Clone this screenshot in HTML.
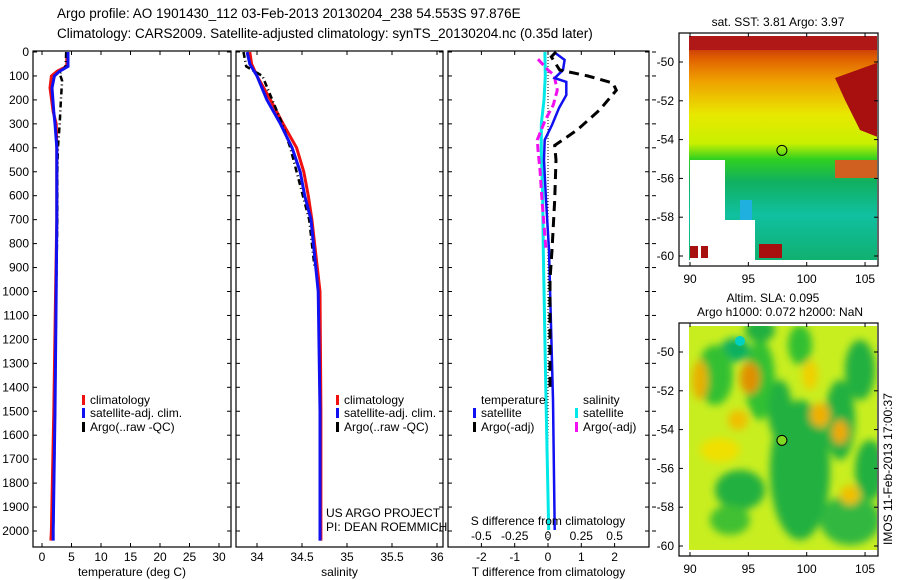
<!DOCTYPE html>
<html><head><meta charset="utf-8"><style>
html,body{margin:0;padding:0;background:#fff}
svg{display:block;font-family:"Liberation Sans",sans-serif}
</style></head><body>
<svg id="c" width="900" height="580" xmlns="http://www.w3.org/2000/svg">
<defs>
<linearGradient id="sstg" x1="0" y1="0" x2="0" y2="1">
<stop offset="0" stop-color="#b01010"/><stop offset="0.1" stop-color="#e06000"/><stop offset="0.2" stop-color="#f0a000"/><stop offset="0.35" stop-color="#e8e800"/><stop offset="0.48" stop-color="#c8f000"/><stop offset="0.55" stop-color="#30d020"/><stop offset="0.65" stop-color="#10b060"/><stop offset="0.8" stop-color="#10c0a0"/><stop offset="1" stop-color="#10b070"/>
</linearGradient>
<filter id="blur"><feGaussianBlur stdDeviation="4"/></filter>
</defs>
</svg>
<script>
const depthsT=[0,60,80,100,150,250,300,400,700,1000,1500,2000,2040];
const tempClim=[4.2,4.2,2.6,1.6,1.35,1.9,2.4,2.5,2.5,2.3,2.0,1.6,1.5];
const tempSat=[4.4,4.4,3.0,2.1,1.7,2.0,2.2,2.5,2.5,2.4,2.2,1.9,1.9];
const depthsA=[0,60,90,120,200,300,400,500,700,1000,1500,2000];
const tempArgo=[4.1,4.0,3.0,3.4,3.2,3.0,2.7,2.6,2.6,2.4,2.2,1.9];
const depthsS=[0,50,100,200,300,400,500,600,700,1000,1500,2000,2040];
const salClim=[33.92,33.94,34.0,34.15,34.29,34.44,34.52,34.57,34.61,34.7,34.71,34.71,34.71];
const salSat=[33.89,33.92,34.0,34.11,34.26,34.39,34.48,34.53,34.6,34.68,34.70,34.70,34.70];
const depthsSA=[0,60,100,200,300,400,500,700,900];
const salArgo=[33.85,33.88,34.06,34.17,34.28,34.37,34.44,34.58,34.64];
const depthsD=[0,33,75,109,125,180,234,305,367,451,618,827,1453,1996];
const tDiffSat=[0.18,0.5,0.45,0.2,0.55,0.55,0.33,0.12,-0.1,-0.12,-0.06,0.03,0.15,0.2];
const depthsDA=[0,20,75,100,130,160,242,326,390,451,618,827,950,1400];
const tDiffArgo=[0.24,0.1,0.35,1.2,1.95,2.05,1.55,0.87,0.2,0.24,0.2,0.12,0.06,0.06];
const depthsSD=[0,100,200,300,420,600,830,1450,1996];
const sDiffSat=[-0.023,-0.02,-0.03,-0.05,-0.05,-0.04,-0.035,-0.015,0.005];
const depthsSDA=[30,75,96,159,221,284,367,409,493,618,827];
const sDiffArgo=[-0.075,0.0,0.045,0.07,0.04,-0.02,-0.08,-0.075,-0.06,-0.045,-0.015];
const depthTicks=[0,100,200,300,400,500,600,700,800,900,1000,1100,1200,1300,1400,1500,1600,1700,1800,1900,2000];
const tTicks=[0,5,10,15,20,25,30];
const sTicks=[34,34.5,35,35.5,36];
const dTicks=[-2,-1,0,1,2];
const sdTicks=[-0.5,-0.25,0,0.25,0.5];
const latTicks=[-50,-52,-54,-56,-58,-60];
const lonTicks=[90,95,100,105];

const svg=document.getElementById('c');
const NS='http://www.w3.org/2000/svg';
function mk(tag,attrs,parent){const e=document.createElementNS(NS,tag);for(const k in attrs)e.setAttribute(k,attrs[k]);(parent||svg).appendChild(e);return e;}
function txt(x,y,s,anchor,size,parent,rot){const e=mk('text',{x:x,y:y,'font-size':size||12,'text-anchor':anchor||'start',fill:'#000'},parent);if(rot)e.setAttribute('transform',rot);e.textContent=s;return e;}
const Y=d=>52+d*0.2395;
const xT=v=>42+v*5.9;
const xS=v=>257+(v-34)*90;
const xD=v=>548+v*33.3;
const xSD=v=>548+v/0.25*33.3;
function path(ds,vs,fx){return ds.map((d,i)=>(i?'L':'M')+fx(vs[i]).toFixed(1)+','+Y(d).toFixed(1)).join('');}

const t1=txt(57,18,'Argo profile: AO 1901430_112 03-Feb-2013 20130204_238 54.553S 97.876E','start',13.5);

const t2=txt(57,38,'Climatology: CARS2009. Satellite-adjusted climatology: synTS_20130204.nc (0.35d later)','start',13.5);


function panel(name,x0,x1,ticks,fx,fmt,xlabel,rightTicks){
  const g=mk('g',{});
  
  
  mk('rect',{x:x0,y:51,width:x1-x0,height:496,fill:'none',stroke:'#000','stroke-width':1.2},g);
  depthTicks.forEach(d=>{mk('line',{x1:x0,x2:x0+4,y1:Y(d),y2:Y(d),stroke:'#000'},g);mk('line',{x1:x1,x2:x1-4,y1:Y(d),y2:Y(d),stroke:'#000'},g);
    if(rightTicks) mk('line',{x1:x1+3,x2:x1+7,y1:Y(d),y2:Y(d),stroke:'#000'},g);});
  ticks.forEach(v=>{const x=fx(v);mk('line',{x1:x,x2:x,y1:51,y2:55,stroke:'#000'},g);mk('line',{x1:x,x2:x,y1:547,y2:543,stroke:'#000'},g);
    const l=txt(x,561,fmt(v),'middle',12,g);});
  const xl=txt((x0+x1)/2,576,xlabel,'middle',12,g);
  return g;
}
depthTicks.forEach(d=>{const l=txt(29,Y(d)+4,String(d),'end',12);});

const g1=panel('temperature-panel',33,231,tTicks,xT,v=>String(v),'temperature (deg C)');
const g2=panel('salinity-panel',236,443,sTicks,xS,v=>String(v),'salinity');
const g3=panel('difference-panel',448,649,dTicks,xD,v=>String(v),'T difference from climatology',true);

function line(g,ds,vs,fx,color,w,dash,name){const p=mk('path',{d:path(ds,vs,fx),fill:'none',stroke:color,'stroke-width':w},g);if(dash)p.setAttribute('stroke-dasharray',dash);return p;}
line(g1,depthsT,tempClim,xT,'#f01010',3,null,'temp-climatology-line');
line(g1,depthsA,tempArgo,xT,'#000',2.5,'6,3,1,3','temp-argo-line');
line(g1,depthsT,tempSat,xT,'#1010f0',3,null,'temp-satellite-line');
line(g2,depthsS,salClim,xS,'#f01010',3,null,'salinity-climatology-line');
line(g2,depthsSA,salArgo,xS,'#000',2.5,'6,3,1,3','salinity-argo-line');
line(g2,depthsS,salSat,xS,'#1010f0',3,null,'salinity-satellite-line');
mk('line',{x1:548,x2:548,y1:51,y2:547,stroke:'#000','stroke-dasharray':'1,2'},g3);
line(g3,depthsSD,sDiffSat,xSD,'#00e8e8',3,null,'s-diff-satellite-line');
line(g3,depthsSDA,sDiffArgo,xSD,'#f010f0',3,'8,4','s-diff-argo-line');
line(g3,depthsD,tDiffSat,xD,'#1010f0',2.5,null,'t-diff-satellite-line');
line(g3,depthsDA,tDiffArgo,xD,'#000',3,'10,6','t-diff-argo-line');

const sdl=txt(548,525,'S difference from climatology','middle',12,g3);
sdTicks.forEach(v=>{const l=txt(xSD(v),540,String(v),'middle',12,g3);});

function legendEntry(g,x,y,color,label){const e=mk('g',{},g);
  mk('rect',{x:x,y:y-9,width:3,height:10,fill:color},e);txt(x+8,y,label,'start',12,e);}
const lg1=mk('g',{});
legendEntry(lg1,82,404,'#f01010','climatology');legendEntry(lg1,82,417,'#1010f0','satellite-adj. clim.');legendEntry(lg1,82,431,'#000','Argo(..raw -QC)');
const lg2=mk('g',{});
legendEntry(lg2,336,404,'#f01010','climatology');legendEntry(lg2,336,417,'#1010f0','satellite-adj. clim.');legendEntry(lg2,336,431,'#000','Argo(..raw -QC)');
const lg3=mk('g',{});
txt(481,404,'temperature','start',12,lg3);txt(583,404,'salinity','start',12,lg3);
legendEntry(lg3,473,417,'#1010f0','satellite');legendEntry(lg3,473,431,'#000','Argo(-adj)');
legendEntry(lg3,575,417,'#00e8e8','satellite');legendEntry(lg3,575,431,'#f010f0','Argo(-adj)');
const pi=mk('g',{});
txt(326,517,'US ARGO PROJECT','start',12,pi);txt(326,531,'PI: DEAN ROEMMICH','start',12,pi);

const xL=v=>690+(v-90)*11.67;
function mapFrame(name,top){
  const g=mk('g',{});
  const yl=v=>top+29+(-50-v)*19.4;
  return {g,yl,top};
}
const m1=mapFrame('sst-map',33);
const cl1=mk('clipPath',{id:'cp1'});mk('rect',{x:689,y:36,width:188,height:224},cl1);
const h1=mk('g',{'clip-path':'url(#cp1)'},m1.g);
mk('rect',{x:689,y:36,width:188,height:224,fill:'url(#sstg)'},h1);
mk('rect',{x:689,y:36,width:188,height:14,fill:'#b01818'},h1);
mk('polygon',{points:'835,78 885,60 885,140 860,130 845,100',fill:'#a81010'},h1);
mk('rect',{x:690,y:160,width:35,height:100,fill:'#fff'},h1);
mk('rect',{x:725,y:220,width:30,height:40,fill:'#fff'},h1);
mk('rect',{x:690,y:246,width:8,height:12,fill:'#a81010'},h1);
mk('rect',{x:701,y:246,width:7,height:12,fill:'#a81010'},h1);
mk('rect',{x:759,y:244,width:23,height:14,fill:'#a81010'},h1);
mk('rect',{x:740,y:200,width:12,height:20,fill:'#20b0e0'},h1);
mk('rect',{x:835,y:160,width:45,height:18,fill:'#d06020'},h1);
const m2=mapFrame('sla-map',323);
const cl2=mk('clipPath',{id:'cp2'});mk('rect',{x:689,y:326,width:188,height:224},cl2);
const h2=mk('g',{'clip-path':'url(#cp2)'},m2.g);
mk('rect',{x:689,y:326,width:188,height:224,fill:'#c8ee20'},h2);
const blobs=mk('g',{filter:'url(#blur)'},h2);
[[735,350,15,12,'#10b060'],[715,375,18,30,'#30c030'],[760,380,15,40,'#30c030'],[780,410,12,30,'#20b040'],[800,470,30,70,'#20b040'],[840,420,15,40,'#20b040'],[860,370,15,30,'#20b040'],[740,490,25,20,'#20b040'],[730,520,20,15,'#40c030'],[850,520,30,25,'#30b840'],[760,330,15,12,'#20b040'],[800,345,12,20,'#30c030'],[700,380,8,20,'#e8b000'],[750,378,10,16,'#e09000'],[738,420,10,10,'#f0c000'],[820,415,10,12,'#f0b000'],[840,432,8,12,'#f0a800'],[810,375,8,15,'#f0d000'],[850,495,10,10,'#f0c000'],[720,450,20,12,'#f0e000'],[870,470,15,30,'#20b040']].forEach(b=>mk('ellipse',{cx:b[0],cy:b[1],rx:b[2],ry:b[3],fill:b[4]},blobs));
mk('ellipse',{cx:740,cy:341,rx:5,ry:5,fill:'#00d0c0'},h2);
[m1,m2].forEach((m,k)=>{
  const top=m.top;
  mk('rect',{x:679,y:top,width:199,height:233,fill:'none',stroke:'#000','stroke-width':1.2},m.g);
  latTicks.forEach(v=>{const y=m.yl(v);mk('line',{x1:679,x2:683,y1:y,y2:y,stroke:'#000'},m.g);mk('line',{x1:878,x2:874,y1:y,y2:y,stroke:'#000'},m.g);
    const l=txt(674,y+4,String(v),'end',12,m.g);});
  lonTicks.forEach(v=>{const x=xL(v);mk('line',{x1:x,x2:x,y1:top,y2:top+4,stroke:'#000'},m.g);mk('line',{x1:x,x2:x,y1:top+233,y2:top+229,stroke:'#000'},m.g);
    const l=txt(x,top+250,String(v),'middle',12,m.g);});
  const mk1=mk('circle',{cx:xL(97.876),cy:m.yl(-54.553),r:5,fill:k?'#80d820':'none',stroke:'#000'},m.g);
  
});
txt(778,26,'sat. SST: 3.81  Argo: 3.97','middle',12,m1.g);
txt(773,302,'Altim. SLA: 0.095','middle',12,m2.g);
txt(780,316,'Argo h1000: 0.072 h2000: NaN','middle',12,m2.g);
const st=txt(0,0,'IMOS 11-Feb-2013 17:00:37','start',12,svg,'translate(892,545) rotate(-90)');

</script>
</body></html>
